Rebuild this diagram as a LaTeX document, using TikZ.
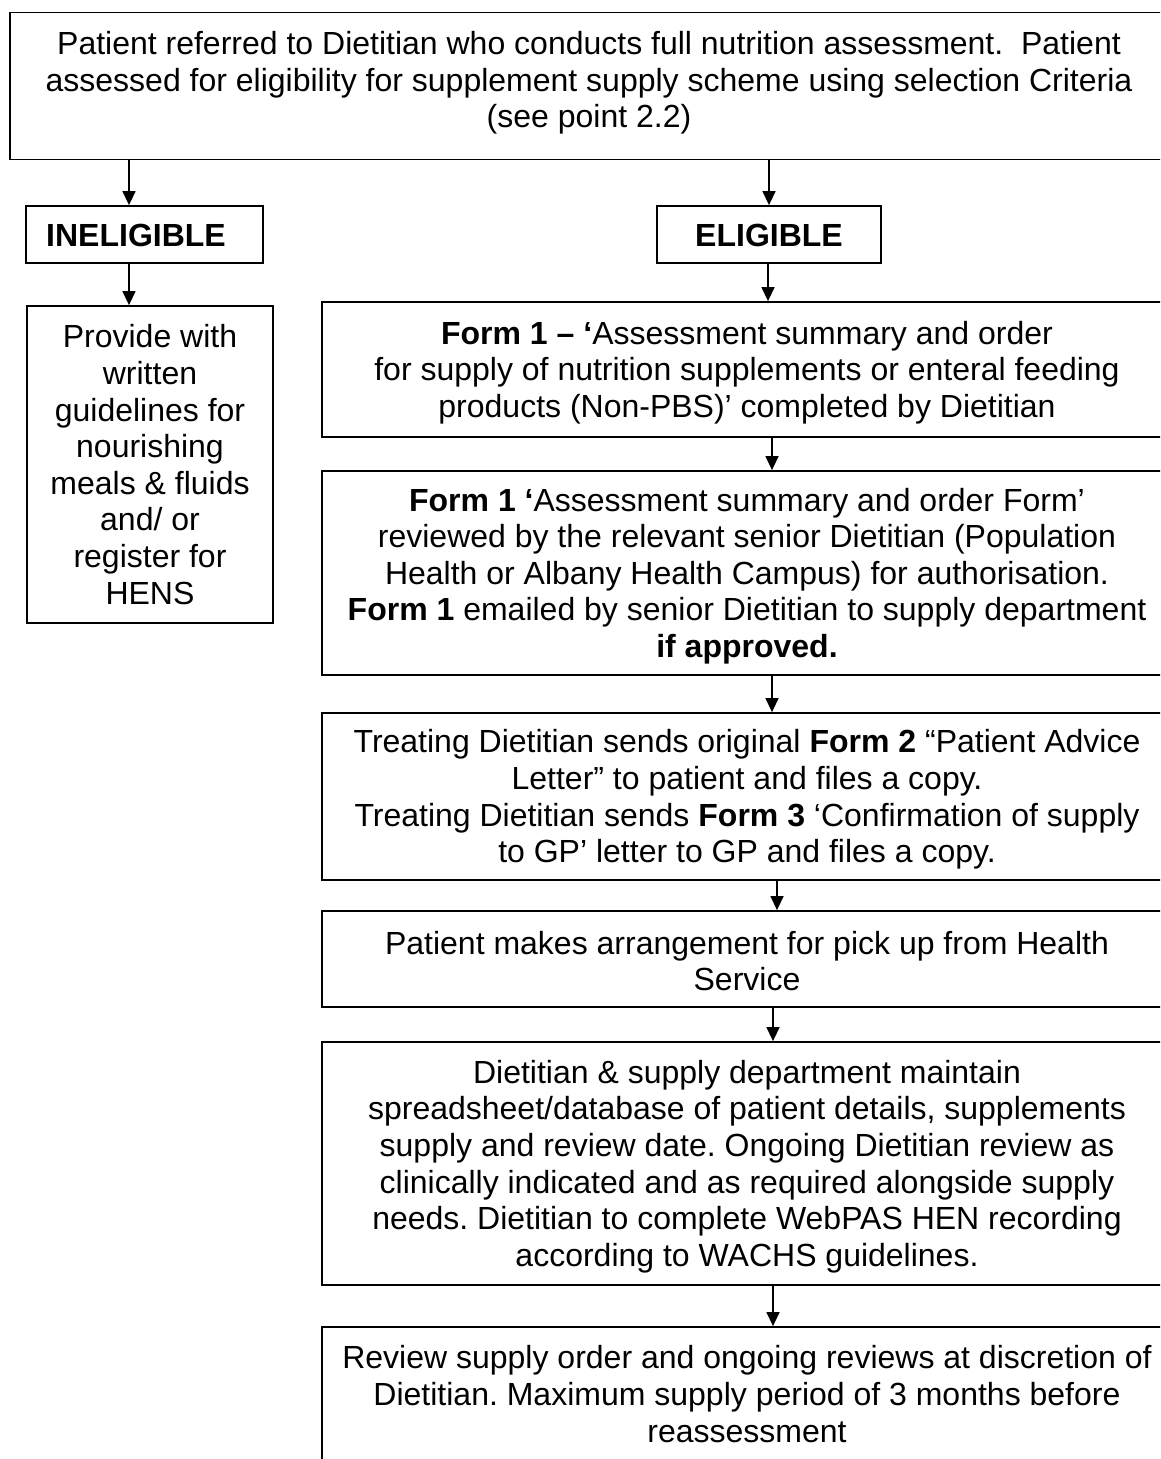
\documentclass[tikz,border=0pt]{standalone}
\usepackage{fontspec}
\setmainfont{Liberation Sans}
\frenchspacing
\usetikzlibrary{arrows.meta}
\tikzset{
  boxnode/.style={draw=black, line width=1.8pt, inner sep=0pt, rectangle},
  txt/.style={align=center, inner sep=0pt, font=\fontsize{32}{36.6}\selectfont},
  lower/.style={text depth=0pt, yshift=-3pt},
  arr/.style={line width=1.4pt, -{Triangle[length=14pt,width=13pt]}},
}
\begin{document}
\begin{tikzpicture}[x=1pt, y=-1pt]
\useasboundingbox (0,0) rectangle (1160,1459);
\clip (0,0) rectangle (1160,1459);
\fill[white] (0,0) rectangle (1160,1459);
% boxes
\node[boxnode, minimum width=1156pt, minimum height=147pt] (b0) at (588,86) {};
\node[txt, yshift=-3pt] (t0) at (589,80) {Patient referred to Dietitian who conducts full nutrition assessment.\ \ Patient\\assessed for eligibility for supplement supply scheme using selection Criteria\\(see point 2.2)};
\node[boxnode, minimum width=237pt, minimum height=57pt] (bi) at (144.5,234.5) {};
\node[txt, font=\fontsize{32}{36.6}\selectfont\bfseries] (ti) at (136,235) {INELIGIBLE};
\node[boxnode, minimum width=224pt, minimum height=57pt] (be) at (769,234.5) {};
\node[txt, font=\fontsize{32}{36.6}\selectfont\bfseries] (te) at (769,235) {ELIGIBLE};
\node[boxnode, minimum width=246pt, minimum height=317pt, txt] (bp) at (150,464.5) {Provide with\\written\\guidelines for\\nourishing\\meals \& fluids\\and/ or\\register for\\HENS};
\node[boxnode, minimum width=850pt, minimum height=135pt] (b1) at (747,369.5) {};
\node[txt, yshift=-3pt] (t1) at (b1.center) {\textbf{Form 1 – ‘}Assessment summary and order\\for supply of nutrition supplements or enteral feeding\\products (Non-PBS)’ completed by Dietitian};
\node[boxnode, minimum width=850pt, minimum height=204pt] (b2) at (747,573) {};
\node[txt, yshift=-3pt] (t2) at (b2.center) {\textbf{Form 1 ‘}Assessment summary and order Form’\\reviewed by the relevant senior Dietitian (Population\\Health or Albany Health Campus) for authorisation.\\\textbf{Form 1} emailed by senior Dietitian to supply department\\\textbf{if approved.}};
\node[boxnode, minimum width=850pt, minimum height=167pt] (b3) at (747,796.5) {};
\node[txt, yshift=-3pt] (t3) at (b3.center) {Treating Dietitian sends original \textbf{Form 2} “Patient Advice\\Letter” to patient and files a copy.\\Treating Dietitian sends \textbf{Form 3} ‘Confirmation of supply\\to GP’ letter to GP and files a copy.};
\node[boxnode, minimum width=850pt, minimum height=96pt] (b4) at (747,959) {};
\node[txt, yshift=-2pt] (t4) at (b4.center) {Patient makes arrangement for pick up from Health\\Service};
\node[boxnode, minimum width=850pt, minimum height=243pt] (b5) at (747,1163.5) {};
\node[txt, yshift=-3pt] (t5) at (b5.center) {Dietitian \& supply department maintain\\spreadsheet/database of patient details, supplements\\supply and review date. Ongoing Dietitian review as\\clinically indicated and as required alongside supply\\needs. Dietitian to complete WebPAS HEN recording\\according to WACHS guidelines.};
\node[boxnode, minimum width=850pt, minimum height=160pt] (b6) at (747,1407) {};
\node[txt] (t6) at (747,1394) {Review supply order and ongoing reviews at discretion of\\Dietitian. Maximum supply period of 3 months before\\reassessment};
% arrow columns
\coordinate (xa) at (129,0);
\coordinate (xb) at (769,0);
\coordinate (xc) at (768,0);
\coordinate (xd) at (772,0);
\coordinate (xe) at (777,0);
\coordinate (xf) at (773,0);
% connectors
\draw[arr] (b0.south -| xa) -- (bi.north -| xa);
\draw[arr] (b0.south -| xb) -- (be.north -| xb);
\draw[arr] (bi.south -| xa) -- (bp.north -| xa);
\draw[arr] (be.south -| xc) -- (b1.north -| xc);
\draw[arr] (b1.south -| xd) -- (b2.north -| xd);
\draw[arr] (b2.south -| xd) -- (b3.north -| xd);
\draw[arr] (b3.south -| xe) -- (b4.north -| xe);
\draw[arr] (b4.south -| xf) -- (b5.north -| xf);
\draw[arr] (b5.south -| xf) -- (b6.north -| xf);
\end{tikzpicture}
\end{document}
